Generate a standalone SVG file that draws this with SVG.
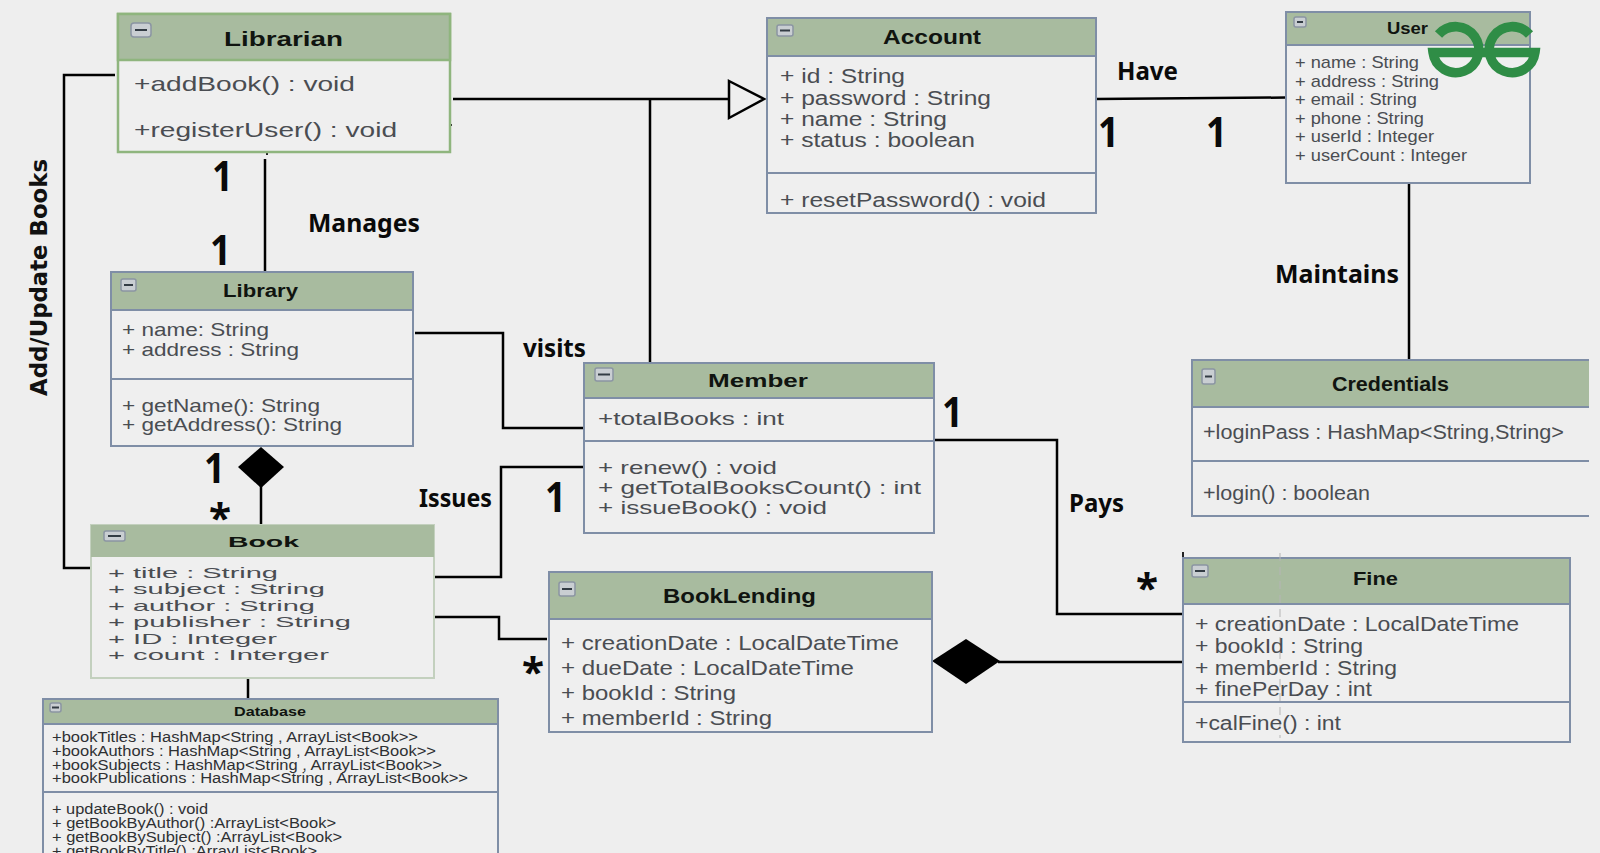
<svg xmlns="http://www.w3.org/2000/svg" width="1600" height="853" viewBox="0 0 1600 853">
<style>
.bg{fill:#eeeeee}
.body{fill:#efefef;stroke:#7f8ea6;stroke-width:2}
.hd{fill:#a8bb9f;stroke:#7f8ea6;stroke-width:2}
.sep{stroke:#7f8ea6;stroke-width:2;fill:none}
.gb{stroke:#8fb57e;stroke-width:2.5}
.lb{stroke:#c3d0be;stroke-width:2}
.ico{fill:#c9ced2;stroke:#8b95a3;stroke-width:1.5}
.icl{stroke:#333c44;stroke-width:2}
text{font-family:"Liberation Sans",Arial,sans-serif}
.t{font-weight:700;fill:#101410}
.r{fill:#4a4d52}
.d{fill:#2e3033}
.lab{font-family:"Noto Sans","Open Sans",sans-serif;font-weight:700;fill:#0a0a0a}
.vert{font-family:"DejaVu Sans",sans-serif;font-weight:700;fill:#111}
.con{fill:none;stroke:#000;stroke-width:2.5}
.tick{fill:none;stroke:#222;stroke-width:2}
</style>
<rect class="bg" width="1600" height="853"/>

<g id="connectors">
<path class="con" d="M453 99H732"/>
<path class="con" d="M650 99V363"/>
<path class="con" d="M265 159V271"/>
<path class="con" d="M115 75H64V568H90"/>
<path class="con" d="M415 333H503V428H584"/>
<path class="con" d="M434 577H501V467H584"/>
<path class="con" d="M434 617H499V639H547"/>
<path class="con" d="M261 486V525"/>
<path class="con" d="M248 678V699"/>
<path class="con" d="M1096 99L1286 97.500"/>
<path class="con" d="M1409 183V359"/>
<path class="con" d="M934 440H1057V614H1182"/>
<path class="con" d="M998 662H1182"/>
<polygon points="729,81 764,99 729,118" fill="#efefef" stroke="#000" stroke-width="2.500"/>
<polygon points="261,447 284,467 261,488 238,467" fill="#000"/>
<polygon points="966,639 1000,661 966,684 932,661" fill="#000"/>
<path class="tick" d="M117 83H120M447 125H452M267 152V155M1183 552V558M931 696H933"/>
</g>

<g id="Librarian">
<rect class="body gb" x="118" y="14" width="332" height="138"/>
<rect class="hd gb" x="118" y="14" width="332" height="46"/>
<rect class="ico" x="131" y="23" width="20" height="14" rx="3"/><path class="icl" d="M135 30H147"/>
<text class="t" x="224" y="46" font-size="21" textLength="119" lengthAdjust="spacingAndGlyphs">Librarian</text>
<text class="r" x="134" y="91" font-size="21" textLength="221" lengthAdjust="spacingAndGlyphs">+addBook() : void</text>
<text class="r" x="134" y="137" font-size="21" textLength="263" lengthAdjust="spacingAndGlyphs">+registerUser() : void</text>
</g>

<g id="Account">
<rect class="body" x="767" y="18" width="329" height="195"/>
<rect class="hd" x="767" y="18" width="329" height="38"/>
<path class="sep" d="M767 173H1096"/>
<rect class="ico" x="777" y="25" width="16" height="11" rx="2"/><path class="icl" d="M780 30.500H790"/>
<text class="t" x="883" y="44" font-size="19.500" textLength="98" lengthAdjust="spacingAndGlyphs">Account</text>
<text class="r" x="780" y="83" font-size="19.500" textLength="125" lengthAdjust="spacingAndGlyphs">+ id : String</text>
<text class="r" x="780" y="105" font-size="19.500" textLength="211" lengthAdjust="spacingAndGlyphs">+ password : String</text>
<text class="r" x="780" y="126" font-size="19.500" textLength="167" lengthAdjust="spacingAndGlyphs">+ name : String</text>
<text class="r" x="780" y="147" font-size="19.500" textLength="195" lengthAdjust="spacingAndGlyphs">+ status : boolean</text>
<text class="r" x="780" y="207" font-size="19.500" textLength="266" lengthAdjust="spacingAndGlyphs">+ resetPassword() : void</text>
</g>

<g id="User">
<rect class="body" x="1286" y="12" width="244" height="171"/>
<rect class="hd" x="1286" y="12" width="244" height="33"/>
<rect class="ico" x="1294" y="17" width="12" height="10" rx="2"/><path class="icl" d="M1297 22H1303"/>
<text class="t" x="1387" y="34" font-size="16" textLength="41" lengthAdjust="spacingAndGlyphs">User</text>
<text class="r" x="1295" y="68" font-size="17" textLength="124" lengthAdjust="spacingAndGlyphs">+ name : String</text>
<text class="r" x="1295" y="87" font-size="17" textLength="144" lengthAdjust="spacingAndGlyphs">+ address : String</text>
<text class="r" x="1295" y="105" font-size="17" textLength="122" lengthAdjust="spacingAndGlyphs">+ email : String</text>
<text class="r" x="1295" y="124" font-size="17" textLength="129" lengthAdjust="spacingAndGlyphs">+ phone : String</text>
<text class="r" x="1295" y="142" font-size="17" textLength="139" lengthAdjust="spacingAndGlyphs">+ userId : Integer</text>
<text class="r" x="1295" y="161" font-size="17" textLength="172" lengthAdjust="spacingAndGlyphs">+ userCount : Integer</text>
</g>

<g id="Credentials">
<rect class="hd" x="1192" y="360" width="397" height="47" style="stroke:none"/>
<path class="sep" d="M1589 360H1192V516H1589M1192 407H1589M1192 461H1589"/>
<rect class="ico" x="1202" y="369" width="13" height="15" rx="2"/><path class="icl" d="M1205 376.500H1212"/>
<text class="t" x="1332" y="391" font-size="21" textLength="117" lengthAdjust="spacingAndGlyphs">Credentials</text>
<text class="r" x="1203" y="439" font-size="20" textLength="361" lengthAdjust="spacingAndGlyphs">+loginPass : HashMap&lt;String,String&gt;</text>
<text class="r" x="1203" y="500" font-size="20" textLength="167" lengthAdjust="spacingAndGlyphs">+login() : boolean</text>
</g>

<g id="Library">
<rect class="body" x="111" y="272" width="302" height="174"/>
<rect class="hd" x="111" y="272" width="302" height="38"/>
<path class="sep" d="M111 379H413"/>
<rect class="ico" x="121" y="279" width="15" height="12" rx="2"/><path class="icl" d="M124 285H133"/>
<text class="t" x="223" y="297" font-size="18" textLength="75" lengthAdjust="spacingAndGlyphs">Library</text>
<text class="r" x="122" y="336" font-size="18.500" textLength="147" lengthAdjust="spacingAndGlyphs">+ name: String</text>
<text class="r" x="122" y="356" font-size="18.500" textLength="177" lengthAdjust="spacingAndGlyphs">+ address : String</text>
<text class="r" x="122" y="412" font-size="18.500" textLength="198" lengthAdjust="spacingAndGlyphs">+ getName(): String</text>
<text class="r" x="122" y="431" font-size="18.500" textLength="220" lengthAdjust="spacingAndGlyphs">+ getAddress(): String</text>
</g>

<g id="Member">
<rect class="body" x="584" y="363" width="350" height="170"/>
<rect class="hd" x="584" y="363" width="350" height="35"/>
<path class="sep" d="M584 441H934"/>
<rect class="ico" x="595" y="368" width="18" height="13" rx="2"/><path class="icl" d="M598 374.500H610"/>
<text class="t" x="708" y="387" font-size="18" textLength="100" lengthAdjust="spacingAndGlyphs">Member</text>
<text class="r" x="598" y="425" font-size="18.500" textLength="186" lengthAdjust="spacingAndGlyphs">+totalBooks : int</text>
<text class="r" x="598" y="474" font-size="18.500" textLength="179" lengthAdjust="spacingAndGlyphs">+ renew() : void</text>
<text class="r" x="598" y="494" font-size="18.500" textLength="323" lengthAdjust="spacingAndGlyphs">+ getTotalBooksCount() : int</text>
<text class="r" x="598" y="514" font-size="18.500" textLength="229" lengthAdjust="spacingAndGlyphs">+ issueBook() : void</text>
</g>

<g id="Book">
<rect class="body lb" x="91" y="525" width="343" height="153"/>
<rect class="hd" x="91" y="525" width="343" height="32" style="stroke:none"/>
<rect class="ico" x="104" y="531" width="21" height="10" rx="2"/><path class="icl" d="M108 536H121"/>
<text class="t" x="228" y="547" font-size="15.500" textLength="71" lengthAdjust="spacingAndGlyphs">Book</text>
<text class="r" x="108" y="578" font-size="15" textLength="170" lengthAdjust="spacingAndGlyphs">+ title : String</text>
<text class="r" x="108" y="594" font-size="15" textLength="217" lengthAdjust="spacingAndGlyphs">+ subject : String</text>
<text class="r" x="108" y="611" font-size="15" textLength="207" lengthAdjust="spacingAndGlyphs">+ author : String</text>
<text class="r" x="108" y="627" font-size="15" textLength="243" lengthAdjust="spacingAndGlyphs">+ publisher : String</text>
<text class="r" x="108" y="644" font-size="15" textLength="169" lengthAdjust="spacingAndGlyphs">+ ID : Integer</text>
<text class="r" x="108" y="660" font-size="15" textLength="221" lengthAdjust="spacingAndGlyphs">+ count : Interger</text>
</g>

<g id="Database">
<rect class="body" x="43" y="699" width="455" height="170"/>
<rect class="hd" x="43" y="699" width="455" height="25"/>
<path class="sep" d="M43 792H498"/>
<rect class="ico" x="50" y="703" width="11" height="9" rx="2"/><path class="icl" d="M52 707.500H59"/>
<text class="t" x="234" y="716" font-size="13.500" textLength="72" lengthAdjust="spacingAndGlyphs">Database</text>
<text class="d" x="52" y="742" font-size="14" textLength="366" lengthAdjust="spacingAndGlyphs">+bookTitles : HashMap&lt;String , ArrayList&lt;Book&gt;&gt;</text>
<text class="d" x="52" y="756" font-size="14" textLength="384" lengthAdjust="spacingAndGlyphs">+bookAuthors : HashMap&lt;String , ArrayList&lt;Book&gt;&gt;</text>
<text class="d" x="52" y="770" font-size="14" textLength="390" lengthAdjust="spacingAndGlyphs">+bookSubjects : HashMap&lt;String , ArrayList&lt;Book&gt;&gt;</text>
<text class="d" x="52" y="783" font-size="14" textLength="416" lengthAdjust="spacingAndGlyphs">+bookPublications : HashMap&lt;String , ArrayList&lt;Book&gt;&gt;</text>
<text class="d" x="52" y="814" font-size="14" textLength="156" lengthAdjust="spacingAndGlyphs">+ updateBook() : void</text>
<text class="d" x="52" y="828" font-size="14" textLength="284" lengthAdjust="spacingAndGlyphs">+ getBookByAuthor() :ArrayList&lt;Book&gt;</text>
<text class="d" x="52" y="842" font-size="14" textLength="290" lengthAdjust="spacingAndGlyphs">+ getBookBySubject() :ArrayList&lt;Book&gt;</text>
<text class="d" x="52" y="856" font-size="14" textLength="265" lengthAdjust="spacingAndGlyphs">+ getBookByTitle() :ArrayList&lt;Book&gt;</text>
</g>

<g id="BookLending">
<rect class="body" x="549" y="572" width="383" height="160"/>
<rect class="hd" x="549" y="572" width="383" height="47"/>
<rect class="ico" x="559" y="582" width="16" height="14" rx="2"/><path class="icl" d="M562 589H572"/>
<text class="t" x="663" y="603" font-size="20.500" textLength="153" lengthAdjust="spacingAndGlyphs">BookLending</text>
<text class="r" x="561" y="650" font-size="21" textLength="338" lengthAdjust="spacingAndGlyphs">+ creationDate : LocalDateTime</text>
<text class="r" x="561" y="675" font-size="21" textLength="293" lengthAdjust="spacingAndGlyphs">+ dueDate : LocalDateTime</text>
<text class="r" x="561" y="700" font-size="21" textLength="175" lengthAdjust="spacingAndGlyphs">+ bookId : String</text>
<text class="r" x="561" y="725" font-size="21" textLength="211" lengthAdjust="spacingAndGlyphs">+ memberId : String</text>
</g>

<g id="Fine">
<rect class="body" x="1183" y="558" width="387" height="184"/>
<rect class="hd" x="1183" y="558" width="387" height="46"/>
<path class="sep" d="M1183 702H1570"/>
<path d="M1280 553V738" stroke="#b5b5b5" stroke-width="1" stroke-dasharray="8 6" fill="none"/>
<rect class="ico" x="1192" y="565" width="16" height="12" rx="2"/><path class="icl" d="M1195 571H1205"/>
<text class="t" x="1353" y="585" font-size="18" textLength="45" lengthAdjust="spacingAndGlyphs">Fine</text>
<text class="r" x="1195" y="631" font-size="19.500" textLength="324" lengthAdjust="spacingAndGlyphs">+ creationDate : LocalDateTime</text>
<text class="r" x="1195" y="653" font-size="19.500" textLength="168" lengthAdjust="spacingAndGlyphs">+ bookId : String</text>
<text class="r" x="1195" y="675" font-size="19.500" textLength="202" lengthAdjust="spacingAndGlyphs">+ memberId : String</text>
<text class="r" x="1195" y="696" font-size="19.500" textLength="177" lengthAdjust="spacingAndGlyphs">+ finePerDay : int</text>
<text class="r" x="1195" y="730" font-size="19.500" textLength="146" lengthAdjust="spacingAndGlyphs">+calFine() : int</text>
</g>

<g id="labels">
<text class="lab" x="1117" y="80" font-size="25" textLength="61" lengthAdjust="spacingAndGlyphs">Have</text>
<text class="lab" x="308" y="232" font-size="25" textLength="112" lengthAdjust="spacingAndGlyphs">Manages</text>
<text class="lab" x="523" y="357" font-size="25" textLength="63" lengthAdjust="spacingAndGlyphs">visits</text>
<text class="lab" x="1275" y="283" font-size="25" textLength="124" lengthAdjust="spacingAndGlyphs">Maintains</text>
<text class="lab" x="1069" y="512" font-size="25" textLength="55" lengthAdjust="spacingAndGlyphs">Pays</text>
<text class="lab" x="419" y="507" font-size="25" textLength="73" lengthAdjust="spacingAndGlyphs">Issues</text>
<text class="lab" x="1098" y="147" font-size="42" textLength="21" lengthAdjust="spacingAndGlyphs">1</text>
<text class="lab" x="1206" y="147" font-size="42" textLength="21" lengthAdjust="spacingAndGlyphs">1</text>
<text class="lab" x="212" y="191" font-size="42" textLength="21" lengthAdjust="spacingAndGlyphs">1</text>
<text class="lab" x="210" y="265" font-size="42" textLength="21" lengthAdjust="spacingAndGlyphs">1</text>
<text class="lab" x="942" y="427" font-size="42" textLength="21" lengthAdjust="spacingAndGlyphs">1</text>
<text class="lab" x="545" y="512" font-size="42" textLength="21" lengthAdjust="spacingAndGlyphs">1</text>
<text class="lab" x="204" y="483" font-size="42" textLength="21" lengthAdjust="spacingAndGlyphs">1</text>
<text class="lab" x="209" y="532" font-size="40" textLength="22" lengthAdjust="spacingAndGlyphs">*</text>
<text class="lab" x="522" y="686" font-size="40" textLength="22" lengthAdjust="spacingAndGlyphs">*</text>
<text class="lab" x="1136" y="602" font-size="40" textLength="22" lengthAdjust="spacingAndGlyphs">*</text>
<text class="vert" transform="translate(47 396) rotate(-90)" font-size="23" textLength="237" lengthAdjust="spacingAndGlyphs">Add/Update Books</text>
</g>

<g id="logo" fill="none" stroke="#2f8d46" stroke-width="9.500">
<path d="M1438.500 34.500A23 23 0 1 1 1433 52.500H1484"/>
<path d="M1529.500 34.500A23 23 0 1 0 1535 52.500H1484"/>
</g>
</svg>
